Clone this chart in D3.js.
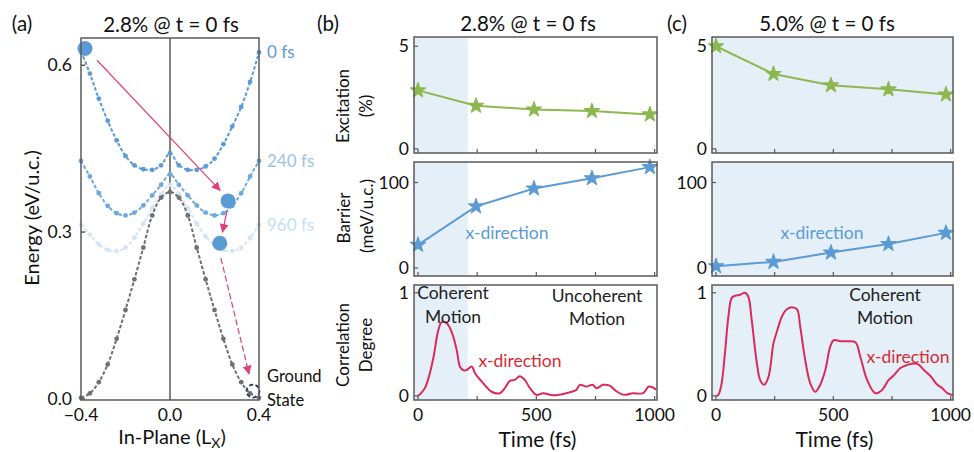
<!DOCTYPE html>
<html><head><meta charset="utf-8">
<script src="https://cdn.jsdelivr.net/npm/d3@7"></script>
<style>body{margin:0;background:#fff} text{font-family:Lato,"Open Sans",sans-serif;fill:#111}</style>
</head><body>
<svg id="c" width="974" height="452"></svg>
<script>
// ---------------- data ----------------
const posX = [-0.40,-0.36,-0.32,-0.28,-0.24,-0.20,-0.16,-0.12,-0.08,-0.04,0.00,0.04,0.08,0.12,0.16,0.20,0.24,0.28,0.32,0.36,0.40];
const energy0fs   = [0.625,0.585,0.540,0.500,0.465,0.437,0.420,0.413,0.412,0.420,0.442,0.420,0.412,0.412,0.418,0.432,0.458,0.490,0.525,0.570,0.623];
const energy240fs = [0.428,0.400,0.370,0.347,0.334,0.330,0.335,0.348,0.366,0.385,0.404,0.385,0.366,0.348,0.335,0.330,0.334,0.347,0.370,0.400,0.428];
const energy960fs = [0.313,0.295,0.278,0.268,0.266,0.272,0.290,0.315,0.343,0.368,0.385,0.368,0.343,0.315,0.292,0.277,0.268,0.266,0.272,0.290,0.313];
const energyGround= [0.002,0.010,0.030,0.062,0.108,0.160,0.215,0.272,0.330,0.362,0.372,0.362,0.330,0.272,0.215,0.160,0.108,0.062,0.030,0.010,0.002];
const energyTicks = [0.0,0.3,0.6];
const posTicks = [-0.4,0.0,0.4];
const curveLabels = ["0 fs","240 fs","960 fs"];
// big markers [x, E]
const statePoints = [[-0.382,0.630],[0.261,0.356],[0.224,0.280]];
const groundState = [0.373,0.014];
// arrows [x1,E1,x2,E2]
const arrowsSolid = [[-0.328,0.609,0.225,0.375],[0.256,0.338,0.236,0.300]];
const arrowsDashed = [[0.229,0.253,0.355,0.045]];

const starTimes = [0,245,490,735,980];
const excitationB = [2.85,2.10,1.92,1.84,1.68];
const barrierB    = [27,72,93,105,118];
const excitationC = [5.0,3.65,3.10,2.90,2.65];
const barrierC    = [2,7,18,28,41];
const corrTimeB = [0,13,30,44,65,86,100,121,142,163,177,191,205,227,241,269,311,346,367,388,409,430,451,473,501,529,571,627,669,684,712,737,754,782,810,838,873,908,951,976,1007];
const corrB     = [0,0.026,0.08,0.17,0.37,0.64,0.715,0.705,0.62,0.45,0.285,0.25,0.25,0.285,0.22,0.14,0.04,0.026,0.075,0.145,0.155,0.19,0.155,0.075,0.01,0.026,0.005,0.026,0.058,0.107,0.09,0.107,0.075,0.107,0.1,0.045,0.01,0.026,0.026,0.09,0.06];
const corrTimeC = [0,10,24,38,53,67,81,103,124,138,152,174,188,205,224,245,259,281,302,324,345,359,380,402,423,444,466,487,502,530,558,594,615,644,679,708,736,758,786,815,858,886,915,943,964,986,1010];
const corrC     = [0,0.01,0.12,0.41,0.77,0.95,0.97,0.98,1.0,0.96,0.74,0.32,0.155,0.107,0.187,0.51,0.62,0.77,0.84,0.86,0.84,0.67,0.35,0.12,0.04,0.107,0.25,0.48,0.54,0.53,0.53,0.52,0.38,0.155,0.026,0.058,0.155,0.2,0.27,0.3,0.31,0.25,0.19,0.107,0.075,0.026,0.007];
const timeTicks = [0,250,500,750,1000];
const timeLabels = [0,500,1000];
const coherentEndB = 210;

// ---------------- style ----------------
const C = {axis:"#595959", blue:"#5b9bd5", blue240:"#6ea9de", blue960:"#d3e5f4",
  lab240:"#9dc3e6", lab960:"#c8ddf0", gray:"#707070", green:"#8cb84f", red:"#db2a5c",
  redText:"#d52b35", arrow:"#e0407a", shade:"#e4eff8", navy:"#1f3864"};
const svg = d3.select("#c");
const defs = svg.append("defs");
defs.append("marker").attr("id","ah").attr("viewBox","0 0 10 10").attr("refX",9).attr("refY",5)
  .attr("markerWidth",9).attr("markerHeight",9).attr("markerUnits","userSpaceOnUse").attr("orient","auto")
  .append("path").attr("d","M0,0 L10,5 L0,10 z").attr("fill",C.arrow);

function txt(x,y,s,o={}){
  const t = svg.append("text").attr("x",x).attr("y",y).attr("dy",o.dy||"0.35em")
    .attr("text-anchor",o.anchor||"middle").style("font-size",(o.size||17)+"px");
  if(o.color) t.style("fill",o.color);
  if(o.rot) t.attr("transform",`rotate(-90,${x},${y})`);
  t.text(s); return t;
}

// ---------------- panel (a) ----------------
const ax = d3.scaleLinear().domain([-0.4,0.4]).range([81,259]);
const ay = d3.scaleLinear().domain([-0.002,0.649]).range([400,38]);
const ga = svg.append("g");
ga.append("line").attr("x1",ax(0)).attr("x2",ax(0)).attr("y1",38).attr("y2",400).attr("stroke",C.axis).attr("stroke-width",1.5);
ga.selectAll(".yt").data(energyTicks).join("line").attr("x1",81).attr("x2",85)
  .attr("y1",d=>ay(d)).attr("y2",d=>ay(d)).attr("stroke",C.axis).attr("stroke-width",1.5);

const curves = [
  {v:energy960fs,c:C.blue960},
  {v:energy240fs,c:C.blue240},
  {v:energy0fs,c:C.blue},
  {v:energyGround,c:C.gray}
];
const eline = d3.line().x((d,i)=>ax(posX[i])).y(d=>ay(d)).curve(d3.curveCatmullRom);
curves.forEach(cv=>{
  ga.append("path").attr("d",eline(cv.v)).attr("fill","none").attr("stroke",cv.c)
    .attr("stroke-width",2).attr("stroke-dasharray","3.5,2");
  ga.selectAll(null).data(cv.v).join("circle").attr("cx",(d,i)=>ax(posX[i])).attr("cy",d=>ay(d))
    .attr("r",2.4).attr("fill",cv.c);
});
// arrows
arrowsSolid.forEach(a=>{
  ga.append("line").attr("x1",ax(a[0])).attr("y1",ay(a[1])).attr("x2",ax(a[2])).attr("y2",ay(a[3]))
    .attr("stroke",C.arrow).attr("stroke-width",1.2).attr("marker-end","url(#ah)");
});
arrowsDashed.forEach(a=>{
  ga.append("line").attr("x1",ax(a[0])).attr("y1",ay(a[1])).attr("x2",ax(a[2])).attr("y2",ay(a[3]))
    .attr("stroke",C.arrow).attr("stroke-width",1.2).attr("stroke-dasharray","6,3").attr("marker-end","url(#ah)");
});
ga.selectAll(".sp").data(statePoints).join("circle").attr("cx",d=>ax(d[0])).attr("cy",d=>ay(d[1]))
  .attr("r",7.5).attr("fill",C.blue);
ga.append("circle").attr("cx",ax(groundState[0])).attr("cy",ay(groundState[1])).attr("r",6.5)
  .attr("fill","none").attr("stroke",C.navy).attr("stroke-width",1.8).attr("stroke-dasharray","4,2.5");
ga.append("rect").attr("x",81).attr("y",38).attr("width",178).attr("height",362)
  .attr("fill","none").attr("stroke",C.axis).attr("stroke-width",1.5);
// tick labels
energyTicks.forEach(d=>txt(72,ay(d),d.toFixed(1),{anchor:"end",size:17.5}));
posTicks.forEach(d=>txt(ax(d),415,d3.format(".1f")(d).replace("-","\u2212"),{size:17.5}));
// labels
txt(171,25,"2.8% @ t = 0 fs",{size:20.5});
txt(22,24,"(a)",{size:20.5});
txt(32,218,"Energy (eV/u.c.)",{size:20,rot:true});
const xl = svg.append("text").attr("x",172).attr("y",437).attr("dy","0.35em").attr("text-anchor","middle").style("font-size","20px");
xl.append("tspan").text("In-Plane (L");
xl.append("tspan").attr("dy","4").style("font-size","14px").text("X");
xl.append("tspan").attr("dy","-4").text(")");
const labCols=[C.blue,C.lab240,C.lab960];
const labY=[energy0fs[20],energy240fs[20],energy960fs[20]];
curveLabels.forEach((s,i)=>txt(267,ay(labY[i]),s,{anchor:"start",size:17,color:labCols[i]}));
txt(267,376,"Ground",{anchor:"start",size:16.5});
txt(267,400,"State",{anchor:"start",size:16.5});

// ---------------- panels (b),(c) ----------------
const rows = [{y0:37,y1:153},{y0:162,y1:276},{y0:285,y1:400}];
const tDom = [-17,1010];
function panel(x0,x1,shadeEnd,exc,bar,ct,cv,opts){
  const x = d3.scaleLinear().domain(tDom).range([x0,x1]);
  const yE = d3.scaleLinear().domain([-0.2,5.45]).range([rows[0].y1,rows[0].y0]);
  const yB = d3.scaleLinear().domain([-9.5,124]).range([rows[1].y1,rows[1].y0]);
  const yC = d3.scaleLinear().domain([-0.04,1.075]).range([rows[2].y1,rows[2].y0]);
  const ys=[yE,yB,yC];
  const yt=[[0,5],[0,100],[0,1]];
  const g = svg.append("g");
  rows.forEach((r,i)=>{
    const xe = shadeEnd==null? x1 : x(shadeEnd);
    g.append("rect").attr("x",x0).attr("y",r.y0).attr("width",xe-x0).attr("height",r.y1-r.y0).attr("fill",C.shade);
    timeTicks.forEach(t=>g.append("line").attr("x1",x(t)).attr("x2",x(t)).attr("y1",r.y1).attr("y2",r.y1-4)
      .attr("stroke",C.axis).attr("stroke-width",1.2));
    yt[i].forEach(v=>{
      g.append("line").attr("x1",x0).attr("x2",x0+4).attr("y1",ys[i](v)).attr("y2",ys[i](v)).attr("stroke",C.axis).attr("stroke-width",1.2);
      txt(x0-5,ys[i](v),String(v),{anchor:"end",size:17.5});
    });
  });
  const sline = (y)=>d3.line().x((d,i)=>x(starTimes[i])).y(d=>y(d));
  const star = d3.symbol(d3.symbolStar).size(70);
  [[exc,yE,C.green],[bar,yB,C.blue]].forEach(([v,y,c])=>{
    g.append("path").attr("d",sline(y)(v)).attr("fill","none").attr("stroke",c).attr("stroke-width",2);
    g.selectAll(null).data(v).join("path").attr("d",star)
      .attr("transform",(d,i)=>`translate(${x(starTimes[i])},${y(d)})`).attr("fill",c).attr("stroke",c).attr("stroke-width",1.2).attr("stroke-linejoin","round");
  });
  const cl = d3.line().x((d,i)=>x(ct[i])).y(d=>yC(d)).curve(d3.curveCatmullRom);
  g.append("path").attr("d",cl(cv)).attr("fill","none").attr("stroke",C.red).attr("stroke-width",2);
  rows.forEach(r=>g.append("rect").attr("x",x0).attr("y",r.y0).attr("width",x1-x0).attr("height",r.y1-r.y0)
    .attr("fill","none").attr("stroke",C.axis).attr("stroke-width",1.5));
  timeLabels.forEach(t=>txt(x(t),415,String(t),{size:17.5}));
  txt((x0+x1)/2+2,440,"Time (fs)",{size:21});
  opts.blueLab && txt(opts.blueLab[0],opts.blueLab[1],"x-direction",{size:17.5,color:C.blue});
  opts.redLab && txt(opts.redLab[0],opts.redLab[1],"x-direction",{size:17.5,color:C.redText});
  (opts.notes||[]).forEach(n=>txt(n[0],n[1],n[2],{size:17.5,color:"#222"}));
}
panel(414,657,coherentEndB,excitationB,barrierB,corrTimeB,corrB,{
  blueLab:[507,233], redLab:[520,361],
  notes:[[453,293,"Coherent"],[453,317,"Motion"],[597,296,"Uncoherent"],[597,319,"Motion"]]});
panel(712,953,null,excitationC,barrierC,corrTimeC,corrC,{
  blueLab:[822,233], redLab:[908,357],
  notes:[[885,295,"Coherent"],[885,318,"Motion"]]});

txt(328,24,"(b)",{size:20.5});
txt(528,24,"2.8% @ t = 0 fs",{size:20.5});
txt(677,24,"(c)",{size:20.5});
txt(827,24,"5.0% @ t = 0 fs",{size:20.5});
// y labels of (b)
txt(343,106,"Excitation",{size:17,rot:true});
txt(366,106,"(%)",{size:17,rot:true});
txt(344,218,"Barrier",{size:17,rot:true});
txt(367,216,"(meV/u.c.)",{size:17,rot:true});
txt(343,345,"Correlation",{size:17,rot:true});
txt(366,345,"Degree",{size:17,rot:true});
</script>
</body></html>
